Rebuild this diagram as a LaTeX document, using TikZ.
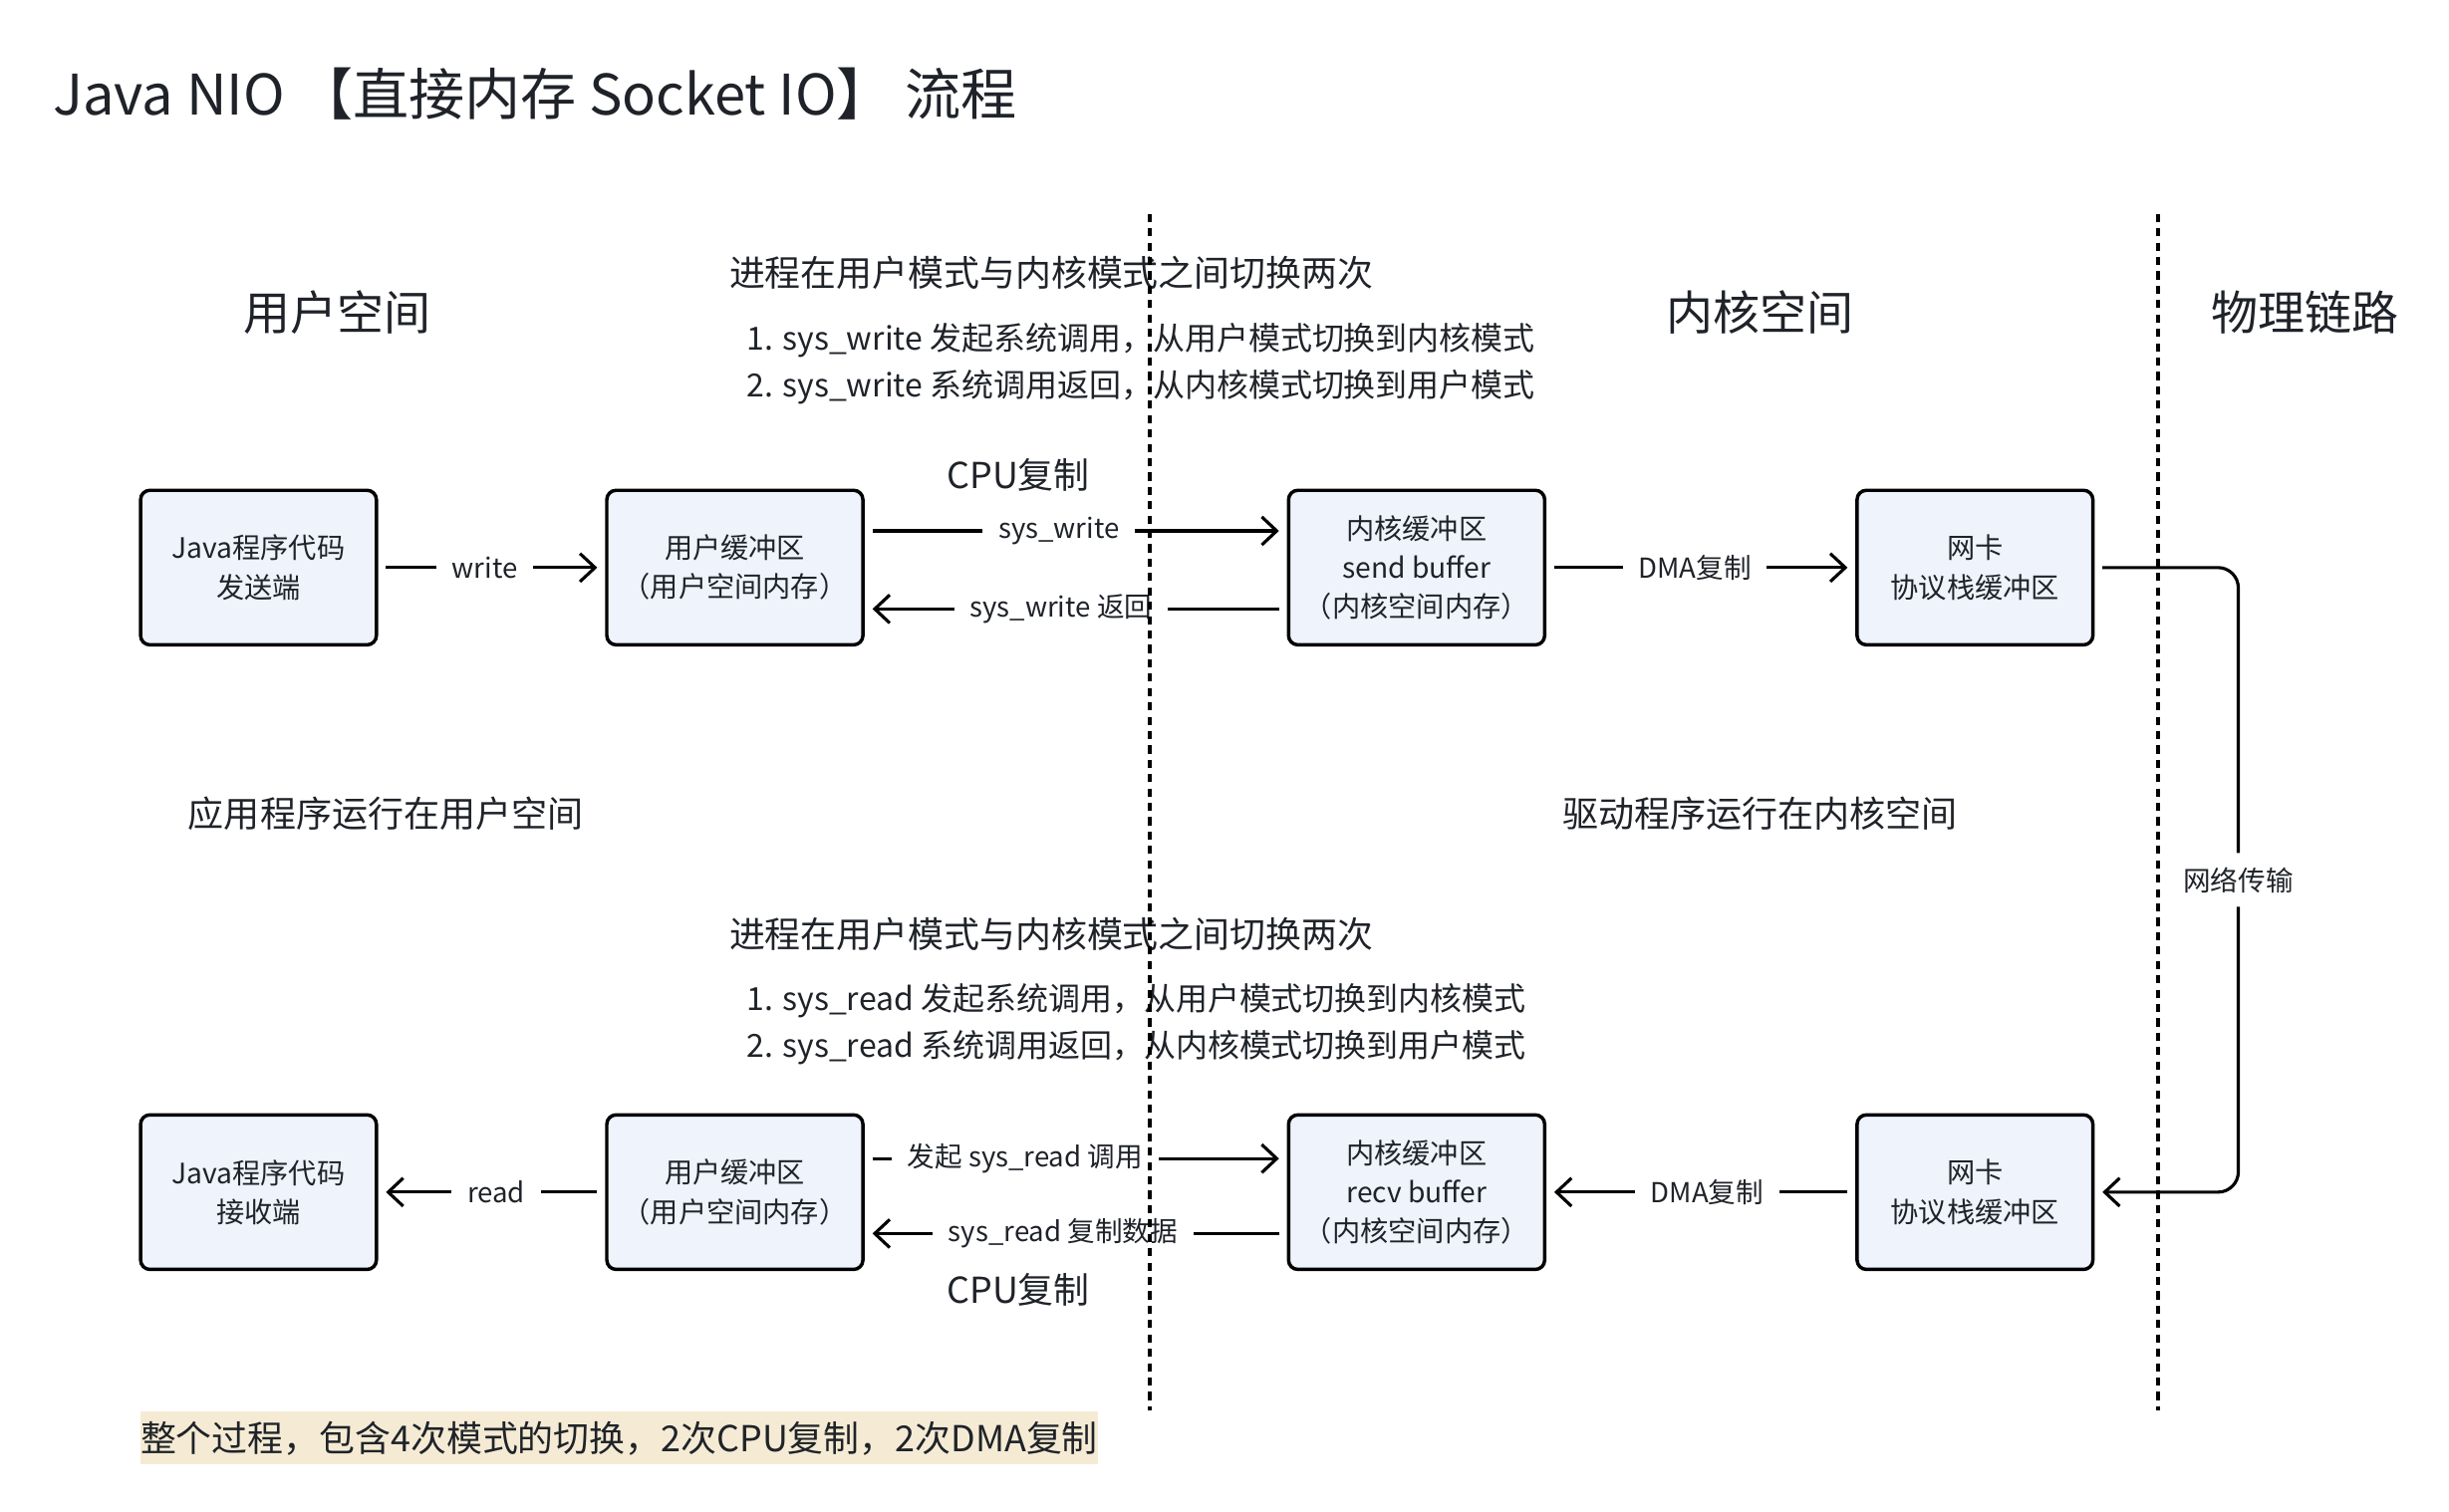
\documentclass[tikz,border=0pt]{standalone}
\usepackage{fontspec}
\setmainfont{Noto Sans CJK SC}
\usetikzlibrary{arrows.meta}

\definecolor{boxfill}{HTML}{EEF3FC}
\definecolor{txt}{HTML}{1F2329}
\definecolor{notebg}{HTML}{F5EBD4}

\tikzset{every picture/.style={line width=1pt}}
\tikzset{
  buf/.style={draw=black, line width=1.1pt, fill=boxfill, rounded corners=3pt, minimum width=75.5pt, minimum height=49.5pt, inner sep=0pt, align=center, text=txt, font=\fontsize{9}{12.5}\selectfont},
  widebuf/.style={buf, minimum width=82pt},
  lbl/.style={fill=white, text=txt, inner xsep=5pt, inner ysep=1pt, font=\fontsize{8.8}{11}\selectfont},
  arr/.style={-{Straight Barb[length=4.8pt,width=9pt]}, shorten <=2.5pt, shorten >=2.5pt},
  sep/.style={line width=1.3pt, dash pattern=on 2.6pt off 2pt},
  head/.style={text=txt, inner sep=0pt, font=\fontsize{15}{18}\selectfont},
  note/.style={text=txt, inner sep=0pt, anchor=west, font=\fontsize{11.45}{14}\selectfont},
  stepline/.style={note, font=\fontsize{10.2}{13}\selectfont},
}

\begin{document}
\begin{tikzpicture}[x=0.5pt,y=0.5pt,yscale=-1,xscale=1]
        \useasboundingbox (0,0) rectangle (1568,968);

        \node[anchor=west, inner sep=0pt, text=txt, font=\fontsize{17.9}{22}\selectfont] (title) at (33,60) {Java NIO 【直接内存 Socket IO】 流程};

        \node[head] (usr) at (216,200) {用户空间};
        \node[head] (krn) at (1127,200) {内核空间};
        \node[head] (phy) at (1476,200) {物理链路};

        \node[note] (wt) at (466,175) {进程在用户模式与内核模式之间切换两次};
        \node[stepline] (w1) at (477,218) {1. sys\_write 发起系统调用，从用户模式切换到内核模式};
        \node[stepline] (w2) at (477,248) {2. sys\_write 系统调用返回，从内核模式切换到用户模式};
        \node[note, anchor=center] (cpu1) at (652,304) {CPU复制};

        \node[buf] (send) at (165.5,363.5) {Java程序代码\\发送端};
        \node[widebuf] (ubuf1) at (470.5,363.5) {用户缓冲区\\（用户空间内存）};
        \node[widebuf] (kbuf1) at (907,363.5) {内核缓冲区\\send buffer\\（内核空间内存）};
        \node[buf] (nic1) at (1264.5,363.5) {网卡\\协议栈缓冲区};

        \draw[arr] (send) -- node[lbl, pos=0.47] {write} (ubuf1);
        \draw[arr] ([yshift=-11.75pt]ubuf1.east) -- node[lbl, pos=0.46] {sys\_write} ([yshift=-11.75pt]kbuf1.west);
        \draw[arr] ([yshift=13.25pt]kbuf1.west) -- node[lbl, pos=0.535] {sys\_write 返回} ([yshift=13.25pt]ubuf1.east);
        \draw[arr] (kbuf1) -- node[lbl, pos=0.48] {DMA复制} (nic1);

        \node[head, font=\fontsize{11.5}{14}\selectfont] (uapp) at (247,521) {应用程序运行在用户空间};
        \node[head, font=\fontsize{11.5}{14}\selectfont] (kdrv) at (1127,521) {驱动程序运行在内核空间};

        \node[note] (rt) at (466,598) {进程在用户模式与内核模式之间切换两次};
        \node[stepline] (r1) at (477,641) {1. sys\_read 发起系统调用，从用户模式切换到内核模式};
        \node[stepline] (r2) at (477,671) {2. sys\_read 系统调用返回，从内核模式切换到用户模式};

        \node[buf] (recv) at (165.5,763.5) {Java程序代码\\接收端};
        \node[widebuf] (ubuf2) at (470.5,763.5) {用户缓冲区\\（用户空间内存）};
        \node[widebuf] (kbuf2) at (907,763.5) {内核缓冲区\\recv buffer\\（内核空间内存）};
        \node[buf] (nic2) at (1264.5,763.5) {网卡\\协议栈缓冲区};
        \node[note, anchor=center] (cpu2) at (652,826) {CPU复制};

        \draw[arr] (ubuf2) -- node[lbl, pos=0.48] {read} (recv);
        \draw[arr] ([yshift=-10.75pt]ubuf2.east) -- node[lbl, pos=0.38] {发起 sys\_read 调用} ([yshift=-10.75pt]kbuf2.west);
        \draw[arr] ([yshift=13.25pt]kbuf2.west) -- node[lbl, pos=0.53] {sys\_read 复制数据} ([yshift=13.25pt]ubuf2.east);
        \draw[arr] (nic2) -- node[lbl, pos=0.48] {DMA复制} (kbuf2);

        \draw[arr, rounded corners=6.5pt] (nic1.east) -- ++(92,0) -- node[lbl, inner ysep=4.5pt] {网络传输} ++(0,400) -- (nic2.east);

        \draw[sep] (736,137) -- (736,903);
        \draw[sep] (1382,137) -- (1382,903);

        \node[note, fill=notebg, inner ysep=3pt] (sum) at (89,921) {整个过程，包含4次模式的切换，2次CPU复制，2次DMA复制};
    \end{tikzpicture}
\end{document}
